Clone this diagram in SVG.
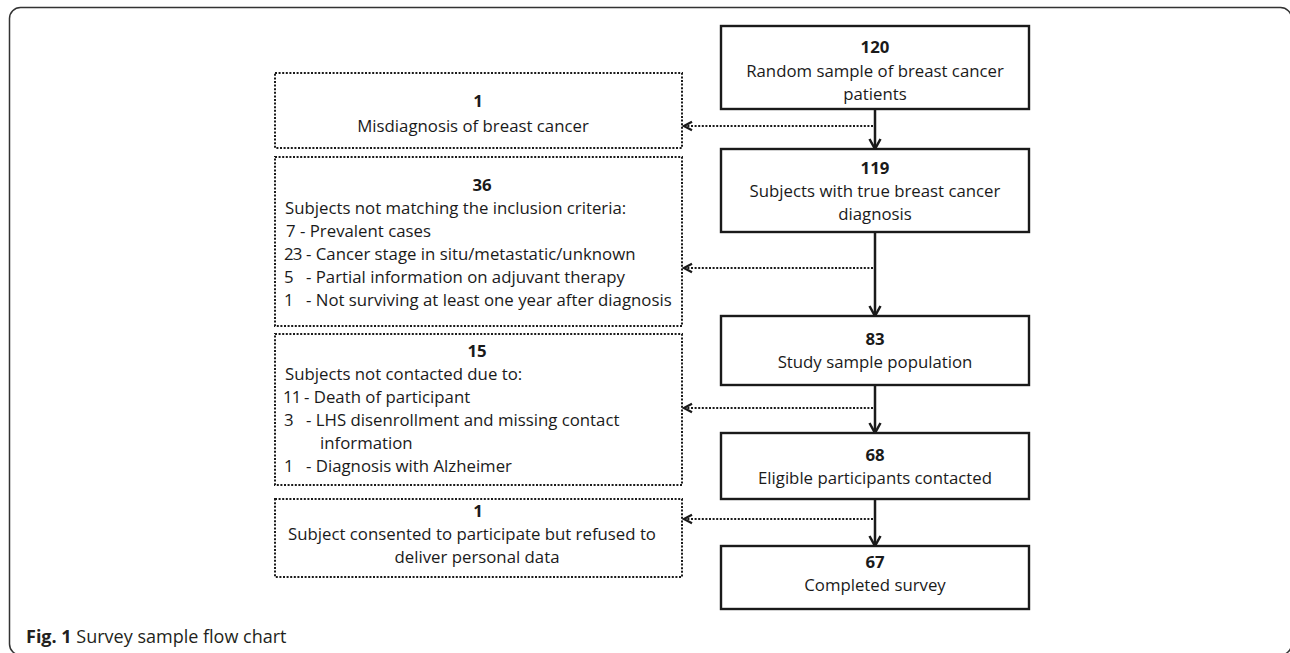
<svg xmlns="http://www.w3.org/2000/svg" width="1290" height="653" viewBox="0 0 1290 653">
<style>
  .frame{fill:none;stroke:#333;stroke-width:1.5}
  .box{fill:#fff;stroke:#1a1a1a;stroke-width:2.4}
  .dbox{fill:#fff;stroke:#1a1a1a;stroke-width:2;stroke-dasharray:2 1.6}
  .t{font-family:"Open Sans","Noto Sans","DejaVu Sans",sans-serif;font-size:16.8px;fill:#1a1a1a}
  .c{text-anchor:middle}
  .b{font-weight:bold}
  .n{letter-spacing:-0.8px}
  .solid{stroke:#1a1a1a;stroke-width:2.5;fill:none}
  .dot{stroke:#1a1a1a;stroke-width:2.2;stroke-dasharray:2 1.6;fill:none}
  .cap{font-family:"Open Sans","Noto Sans","DejaVu Sans",sans-serif;font-size:18px;fill:#231f20}
</style>
<defs>
  <marker id="ah" markerUnits="userSpaceOnUse" markerWidth="14" markerHeight="14" viewBox="0 0 14 14" refX="12" refY="7" orient="auto">
    <path d="M2,1.5 L12,7 L2,12.5" fill="none" stroke="#1a1a1a" stroke-width="2.5"/>
  </marker>
  <marker id="ahd" markerUnits="userSpaceOnUse" markerWidth="14" markerHeight="14" viewBox="0 0 14 14" refX="11" refY="7" orient="auto">
    <path d="M3,2.8 L11,7 L3,11.2" fill="none" stroke="#1a1a1a" stroke-width="2.3"/>
  </marker>
</defs>
<rect class="frame" x="9.5" y="7.5" width="1282" height="647.5" rx="11" ry="11"/>

<g id="connectors">
  <line class="dot" x1="873" y1="126" x2="684" y2="126" marker-end="url(#ahd)"/>
  <line class="dot" x1="873" y1="268" x2="684" y2="268" marker-end="url(#ahd)"/>
  <line class="dot" x1="873" y1="408" x2="684" y2="408" marker-end="url(#ahd)"/>
  <line class="dot" x1="873" y1="519" x2="684" y2="519" marker-end="url(#ahd)"/>
  <line class="solid" x1="875" y1="109" x2="875" y2="149" marker-end="url(#ah)"/>
  <line class="solid" x1="875" y1="232" x2="875" y2="316" marker-end="url(#ah)"/>
  <line class="solid" x1="875" y1="385" x2="875" y2="433" marker-end="url(#ah)"/>
  <line class="solid" x1="875" y1="499" x2="875" y2="546" marker-end="url(#ah)"/>
</g>

<g id="n120">
  <rect class="box" x="721" y="26" width="308" height="83"/>
  <text class="t c b" x="875" y="53">120</text>
  <text class="t c" x="875" y="77">Random sample of breast cancer</text>
  <text class="t c" x="875" y="100">patients</text>
</g>
<g id="n119">
  <rect class="box" x="721" y="149" width="308" height="83"/>
  <text class="t c b" x="875" y="174">119</text>
  <text class="t c" x="875" y="197">Subjects with true breast cancer</text>
  <text class="t c" x="875" y="220">diagnosis</text>
</g>
<g id="n83">
  <rect class="box" x="721" y="316" width="308" height="69"/>
  <text class="t c b" x="875" y="345">83</text>
  <text class="t c" x="875" y="368">Study sample population</text>
</g>
<g id="n68">
  <rect class="box" x="721" y="433" width="308" height="66"/>
  <text class="t c b" x="875" y="461">68</text>
  <text class="t c" x="875" y="484">Eligible participants contacted</text>
</g>
<g id="n67">
  <rect class="box" x="721" y="546" width="308" height="63"/>
  <text class="t c b" x="875" y="568">67</text>
  <text class="t c" x="875" y="591">Completed survey</text>
</g>

<g id="ex1">
  <rect class="dbox" x="275" y="73" width="407" height="75"/>
  <text class="t c b" x="478" y="107">1</text>
  <text class="t c" x="473" y="132">Misdiagnosis of breast cancer</text>
</g>
<g id="ex36">
  <rect class="dbox" x="275" y="157" width="407" height="169"/>
  <text class="t c b" x="482" y="191">36</text>
  <text class="t" x="285" y="214">Subjects not matching the inclusion criteria:</text>
  <text class="t" y="237"><tspan x="286">7</tspan><tspan x="300">- Prevalent cases</tspan></text>
  <text class="t" y="260"><tspan class="n" x="284">23</tspan><tspan x="306">- Cancer stage in situ/metastatic/unknown</tspan></text>
  <text class="t" y="283"><tspan x="284">5</tspan><tspan x="306">- Partial information on adjuvant therapy</tspan></text>
  <text class="t" y="306"><tspan x="284">1</tspan><tspan x="306">- Not surviving at least one year after diagnosis</tspan></text>
</g>
<g id="ex15">
  <rect class="dbox" x="275" y="334" width="407" height="151"/>
  <text class="t c b" x="477" y="357">15</text>
  <text class="t" x="285" y="380">Subjects not contacted due to:</text>
  <text class="t" y="403"><tspan class="n" x="283">11</tspan><tspan x="304">- Death of participant</tspan></text>
  <text class="t" y="426"><tspan x="284">3</tspan><tspan x="306">- LHS disenrollment and  missing contact</tspan></text>
  <text class="t" x="320" y="449">information</text>
  <text class="t" y="472"><tspan x="284">1</tspan><tspan x="306">- Diagnosis with Alzheimer</tspan></text>
</g>
<g id="ex1b">
  <rect class="dbox" x="275" y="499" width="407" height="78"/>
  <text class="t c b" x="478" y="517">1</text>
  <text class="t c" x="472" y="540">Subject consented to participate but refused to</text>
  <text class="t c" x="477" y="563">deliver personal data</text>
</g>

<text class="cap" x="26" y="643"><tspan font-weight="bold">Fig. 1</tspan> Survey sample flow chart</text>
</svg>
